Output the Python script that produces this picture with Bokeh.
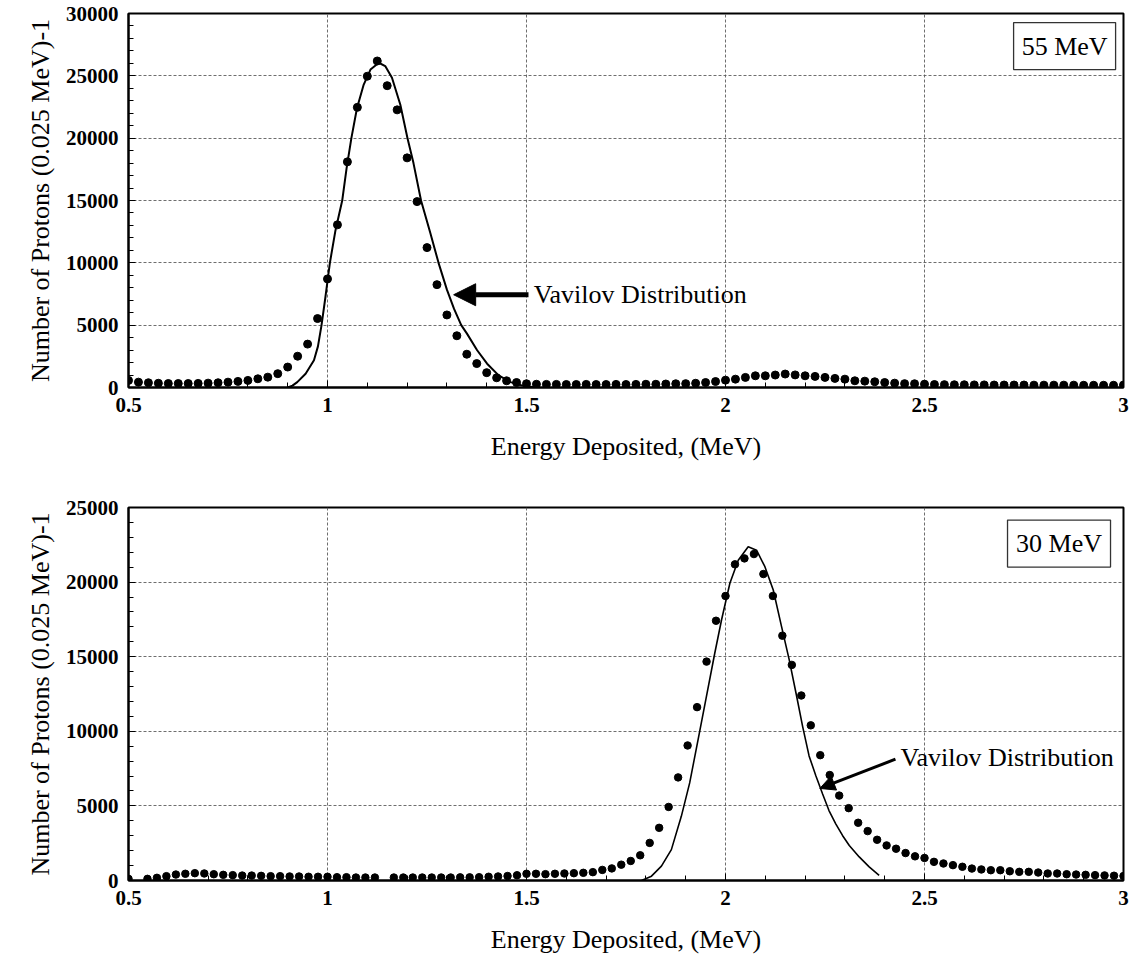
import numpy as np
from bokeh.plotting import figure
from bokeh.layouts import column
from bokeh.models import FixedTicker, CustomJSTickFormatter, Arrow, NormalHead
from bokeh.core.properties import value
from bokeh.embed import file_html
from bokeh.resources import INLINE

# ---------------- data ----------------
x_ticks = [0.5, 1.0, 1.5, 2.0, 2.5, 3.0]
x_minor = [round(0.5 + 0.1 * i, 1) for i in range(26)]

# 55 MeV : measured points (bins of 0.025 MeV from 0.5 to 3.0)
top_energy = np.round(0.5 + 0.025 * np.arange(101), 3)
top_counts = [
    570, 430, 380, 340, 320, 320, 320, 330, 350, 380,
    430, 490, 570, 700, 830, 1110, 1640, 2510, 3480, 5530,
    8710, 13050, 18100, 22470, 24970, 26190, 24210, 22270, 18420, 14910,
    11220, 8250, 5820, 4150, 2670, 1920, 1190, 780, 540, 400,
    300, 260, 250, 250, 240, 240, 250, 240, 240, 250,
    240, 250, 260, 260, 280, 300, 310, 340, 400, 480,
    590, 670, 810, 940, 940, 1000, 1080, 1010, 940, 890,
    810, 730, 670, 540, 510, 460, 400, 350, 310, 300,
    270, 240, 230, 220, 220, 210, 210, 200, 200, 200,
    200, 190, 190, 190, 190, 190, 180, 180, 180, 180,
    200,
]
# 55 MeV : Vavilov distribution
top_vav_energy = [0.900, 0.912, 0.924, 0.945, 0.966, 0.976, 0.985, 0.995, 1.006, 1.020,
                  1.037, 1.048, 1.060, 1.074, 1.091, 1.108, 1.129, 1.145, 1.162, 1.183,
                  1.201, 1.216, 1.235, 1.258, 1.279, 1.300, 1.318, 1.336, 1.350, 1.376,
                  1.401, 1.430, 1.460, 1.490, 1.520]
top_vav_counts = [0, 150, 430, 1100, 2180, 3300, 5000, 7300, 10000, 12600,
                  15000, 17600, 20000, 22400, 24300, 25500, 26050, 25780, 24840, 22680,
                  20000, 18000, 15000, 12430, 10000, 7850, 6300, 5000, 4340, 2990,
                  1910, 970, 430, 150, 30]

# 30 MeV : measured points
nan = float("nan")
bot_energy = 0.5 + np.arange(106) / 42.0
bot_counts = [
    110, nan, 110, 180, 290, 400, 450, 490, 470, 420,
    380, 360, 330, 330, 310, 290, 290, 270, 270, 250,
    250, 250, 220, 220, 200, 200, 200, nan, 200, 200,
    200, 200, 200, 200, 200, 210, 210, 220, 250, 270,
    300, 350, 450, 450, 425, 450, 470, 490, 515, 560,
    710, 810, 1060, 1310, 1690, 2520, 3530, 4930, 6910, 9050,
    11620, 14670, 17410, 19070, 21190, 21590, 21880, 20540, 19070, 16410,
    14450, 12400, 10400, 8400, 7070, 5690, 4850, 3870, 3310, 2730,
    2350, 2130, 1840, 1620, 1510, 1250, 1140, 1030, 920, 800,
    740, 690, 690, 620, 580, 580, 535, 470, 470, 420,
    400, 380, 360, 340, 320, 300,
]
# 30 MeV : Vavilov distribution
bot_vav_energy = [1.789, 1.814, 1.839, 1.864, 1.889, 1.910, 1.931, 1.952, 1.973, 1.990,
                  2.011, 2.032, 2.057, 2.078, 2.099, 2.120, 2.141, 2.160, 2.178, 2.194,
                  2.210, 2.227, 2.244, 2.260, 2.277, 2.294, 2.311, 2.336, 2.361, 2.386]
bot_vav_counts = [0, 290, 960, 2070, 4300, 6540, 9430, 12330, 15230, 17460,
                  19920, 21470, 22370, 22140, 21030, 19470, 17000, 14800, 12450, 10300,
                  8350, 7020, 5800, 4690, 3800, 3020, 2350, 1580, 910, 350]

labels = ["55 MeV", "30 MeV"]
annotation = "Vavilov Distribution"
x_title = "Energy Deposited, (MeV)"
y_title = "Number of Protons (0.025 MeV)-1"

SERIF = "Liberation Serif"


def make_fig(ymax, ystep, border_top, border_bottom):
    p = figure(width=1134, height=478, x_range=(0.5, 3.0), y_range=(0, ymax),
               output_backend="svg", toolbar_location=None,
               min_border_left=128, min_border_right=11,
               min_border_top=border_top, min_border_bottom=border_bottom)
    p.background_fill_color = "white"
    p.border_fill_color = "white"
    p.outline_line_color = "black"
    p.outline_line_width = 2

    xt = FixedTicker(ticks=x_ticks, minor_ticks=x_minor)
    yt = FixedTicker(ticks=list(range(0, ymax + 1, ystep)),
                     minor_ticks=list(range(0, ymax + 1, 1000)))
    p.xaxis.ticker = xt
    p.yaxis.ticker = yt
    p.xgrid.ticker = xt
    p.ygrid.ticker = yt
    p.xaxis.formatter = CustomJSTickFormatter(code="return tick.toString();")
    p.yaxis.formatter = CustomJSTickFormatter(code="return tick.toString();")

    for g in (p.xgrid, p.ygrid):
        g.grid_line_color = "#555555"
        g.grid_line_dash = "3 2"
        g.grid_line_width = 1
        g.grid_line_alpha = 0.85

    for ax in (p.xaxis, p.yaxis):
        ax.axis_line_color = "black"
        ax.axis_line_width = 2
        ax.major_tick_in = 7
        ax.major_tick_out = 0
        ax.minor_tick_in = 5
        ax.minor_tick_out = 0
        ax.major_tick_line_color = "black"
        ax.minor_tick_line_color = "black"
        ax.major_label_text_font = SERIF
        ax.major_label_text_font_size = "21px"
        ax.major_label_text_font_style = "bold"
        ax.major_label_text_color = "black"
        ax.axis_label_text_font = SERIF
        ax.axis_label_text_font_size = "26px"
        ax.axis_label_text_font_style = "normal"
        ax.axis_label_text_color = "black"
    p.xaxis.major_label_standoff = 10
    p.xaxis.axis_label_standoff = 17
    p.yaxis.major_label_standoff = 10
    p.yaxis.axis_label_standoff = 8
    p.xaxis.axis_label = x_title
    p.yaxis.axis_label = y_title
    return p


# ---------------- top: 55 MeV ----------------
p1 = make_fig(30000, 5000, 13, 91)
p1.line(top_vav_energy, top_vav_counts, line_color="black", line_width=2)
p1.scatter(top_energy, top_counts, size=8, color="black")
p1.add_layout(Arrow(end=NormalHead(size=22, fill_color="black", line_color="black"),
                    x_start=1.505, y_start=7440, x_end=1.317, y_end=7440,
                    line_width=5, line_color="black"))
p1.text(x=[1.518], y=[7440], text=[annotation], text_font=value(SERIF),
        text_font_size="26px", text_baseline="middle", text_align="left", text_color="black")
p1.rect(x=[2.852], y=[27390], width=102, height=47, width_units="screen", height_units="screen",
        fill_color="white", line_color="#333333", line_width=1.3)
p1.text(x=[2.852], y=[27390], text=[labels[0]], text_font=value(SERIF),
        text_font_size="26px", text_baseline="middle", text_align="center", text_color="black")

# ---------------- bottom: 30 MeV ----------------
p2 = make_fig(25000, 5000, 29, 75)
p2.line(bot_vav_energy, bot_vav_counts, line_color="black", line_width=1.6)
p2.scatter(bot_energy, np.array(bot_counts, dtype=float), size=7.5, color="black")
p2.add_layout(Arrow(end=NormalHead(size=15, fill_color="black", line_color="black"),
                    x_start=2.427, y_start=8130, x_end=2.237, y_end=6170,
                    line_width=3, line_color="black"))
p2.text(x=[2.440], y=[8220], text=[annotation], text_font=value(SERIF),
        text_font_size="26px", text_baseline="middle", text_align="left", text_color="black")
p2.rect(x=[2.838], y=[22580], width=103, height=47, width_units="screen", height_units="screen",
        fill_color="white", line_color="#333333", line_width=1.3)
p2.text(x=[2.838], y=[22580], text=[labels[1]], text_font=value(SERIF),
        text_font_size="26px", text_baseline="middle", text_align="center", text_color="black")

layout = column(p1, p2, spacing=0)
open("out.html", "w").write(file_html(layout, INLINE))
